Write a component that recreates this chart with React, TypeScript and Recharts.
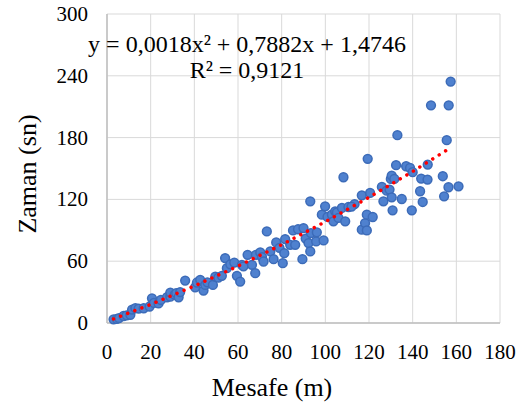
import React from 'react';
import { ScatterChart, Scatter, XAxis, YAxis, CartesianGrid } from 'recharts';

// measured points: distance (m) and time (s)
const mesafe = [
  3, 4.5, 5.5, 7.6, 9, 10.7, 11.5, 13, 14.5, 16.8, 19.5, 20.6, 21.5, 23.6, 24.7, 27.5, 29, 29, 31, 31.7,
  32.8, 33.5, 35.8, 40.4, 41.2, 42.7, 44.2, 45, 46, 48.5, 49.6, 51, 52.6, 54.1, 54.9, 56.5, 58.3, 59.5, 61, 61.8,
  62.5, 64.4, 66.4, 67.9, 68.2, 70.2, 71, 71.7, 73.2, 74.8, 76.3, 77.5, 79, 80.5, 81.2, 81.6, 83.9, 85.2, 86.2, 87.5,
  89.5, 90, 91, 92.3, 93.1, 93.4, 93.1, 95.8, 96.1, 98.4, 99.2, 99.9, 101, 103, 103.7, 104.5, 105.3, 106, 107.6, 108.3,
  109.1, 110.6, 113.4, 112, 116.7, 116.7, 118.2, 119, 119, 119.4, 120.5, 121.7, 125.9, 126.6, 128.1, 129.4, 130, 130.4, 131.6, 130.4,
  130.8, 132.4, 133, 135, 137, 138.8, 139.6, 140, 143.4, 143.9, 144.6, 146.8, 146.9, 148.4, 153.8, 154.4, 155.6, 156.4, 156.5, 157.4,
  161,
];
const zaman = [
  3.6, 4, 4.8, 6.8, 7.5, 8, 13, 14.5, 14, 14.3, 16, 24, 19.5, 19, 22.4, 25, 25.6, 29.5, 27.5, 28.9,
  25, 30, 41.2, 34.7, 39.3, 41.9, 31.5, 37, 39.5, 37, 45.1, 44, 45.8, 63, 53.2, 57, 58.7, 45.8, 40.2, 56.5,
  55, 66.2, 56.5, 48.4, 66.2, 68.5, 64, 59.7, 88.9, 69.5, 62, 78.2, 73, 58.1, 67.8, 81.5, 75.9, 89.9, 75.9, 91,
  62, 92.2, 82, 77.6, 69.5, 87.3, 118.1, 79.2, 88, 105.2, 80.2, 113.3, 103, 105.2, 98.7, 108.4, 107.4, 102, 111.7, 141.5,
  98.7, 112.6, 115.5, 113, 124, 90.6, 97, 105.2, 89.9, 159.4, 126.3, 102.9, 132.1, 118.1, 128.5, 129.5, 139.9, 143.1, 139.9, 122,
  109.4, 153.2, 182.4, 120.4, 152.2, 150.6, 109.4, 146.4, 127.9, 140.2, 117.5, 139.2, 153.8, 211.3, 142.5, 123, 177.5, 131.8, 211.3, 234.4,
  132.7,
];

// polynomial trendline
const trendX = [3, 20, 40, 60, 80, 100, 120, 140, 158];
const trendY = [3.9, 18, 35.9, 55.2, 76, 98.3, 122, 147.1, 171];

const xTicks = [0, 20, 40, 60, 80, 100, 120, 140, 160, 180];
const yTicks = [0, 60, 120, 180, 240, 300];

const points = mesafe.map((x, i) => ({ x, y: zaman[i] }));
const trend = trendX.map((x, i) => ({ x, y: trendY[i] }));

const FONT = '"Liberation Serif", "Times New Roman", serif';

const Marker = (props: any) => {
  const { cx, cy } = props;
  if (cx == null || cy == null) return null;
  return <circle cx={cx} cy={cy} r={4.4} fill="#4f81cf" stroke="#3c6bb8" strokeWidth={1.5} />;
};

// axis at y=323, digits baseline near 359
const XTick = (props: any) => (
  <text x={props.x} y={359} textAnchor="middle" fontSize={21} fontFamily={FONT} fill="#000">
    {props.payload.value}
  </text>
);

const YTick = (props: any) => (
  <text x={88} y={props.y + 7} textAnchor="end" fontSize={21} fontFamily={FONT} fill="#000">
    {props.payload.value}
  </text>
);

export default function App() {
  return (
    <div
      style={{
        position: 'absolute',
        left: 0,
        top: 0,
        width: 530,
        height: 405,
        background: '#fff',
        fontFamily: FONT,
      }}
    >
      <ScatterChart width={530} height={405} margin={{ top: 14, right: 30, bottom: 52, left: 47 }}>
        <CartesianGrid stroke="#d9d9d9" strokeWidth={1} />
        <XAxis
          type="number"
          dataKey="x"
          domain={[0, 180]}
          ticks={xTicks}
          height={30}
          tickLine={false}
          axisLine={{ stroke: '#bfbfbf', strokeWidth: 1.5 }}
          tick={XTick}
        />
        <YAxis
          type="number"
          dataKey="y"
          domain={[0, 300]}
          ticks={yTicks}
          width={60}
          tickLine={false}
          axisLine={{ stroke: '#bfbfbf', strokeWidth: 1.5 }}
          tick={YTick}
        />
        <Scatter data={points} shape={Marker} isAnimationActive={false} />
        <Scatter
          data={trend}
          shape={() => null}
          line={{ stroke: '#ff0000', strokeWidth: 3.5, strokeDasharray: '0.01 7.6', strokeLinecap: 'round' }}
          lineType="joint"
          isAnimationActive={false}
        />
      </ScatterChart>
      <svg
        width={530}
        height={405}
        style={{ position: 'absolute', left: 0, top: 0, pointerEvents: 'none' }}
      >
        <text x={247} y={52} textAnchor="middle" fontSize={24} fontFamily={FONT} fill="#000">
          y = 0,0018x² + 0,7882x + 1,4746
        </text>
        <text x={247} y={78} textAnchor="middle" fontSize={24} fontFamily={FONT} fill="#000">
          R² = 0,9121
        </text>
        <text x={272} y={396} textAnchor="middle" fontSize={26} fontFamily={FONT} fill="#000">
          Mesafe (m)
        </text>
        <text
          x={36}
          y={174}
          textAnchor="middle"
          fontSize={26}
          fontFamily={FONT}
          fill="#000"
          transform="rotate(-90, 36, 174)"
        >
          Zaman (sn)
        </text>
      </svg>
    </div>
  );
}
